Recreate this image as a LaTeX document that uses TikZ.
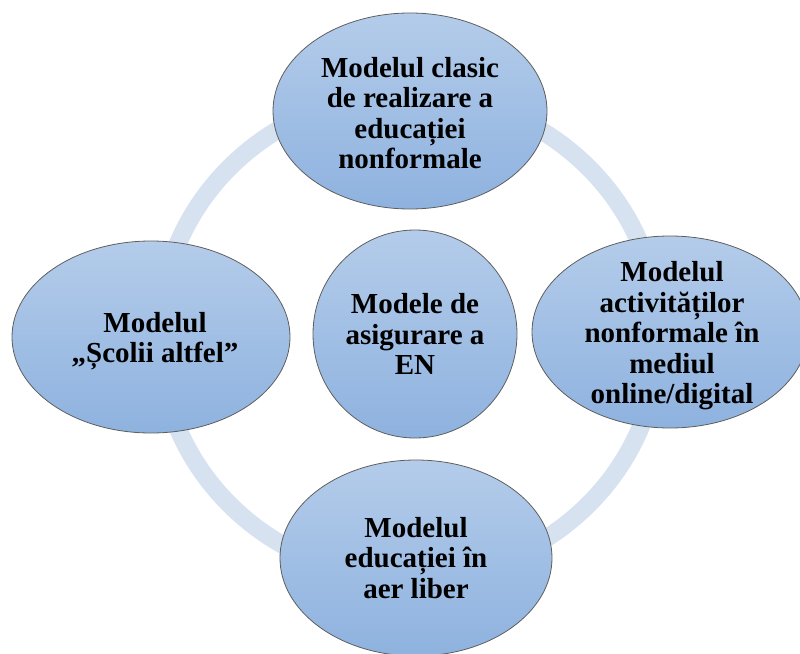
\documentclass[tikz,border=0pt]{standalone}
\usepackage{fontspec}
\setmainfont{Liberation Serif}
\usetikzlibrary{shapes.geometric}
\definecolor{ringc}{HTML}{D7E2F1}
\definecolor{topc}{HTML}{B4CCEA}
\definecolor{botc}{HTML}{8EB2DF}
\definecolor{edgec}{HTML}{5E5E5E}
\tikzset{
  bub/.style={ellipse, draw=edgec, line width=0.8pt, top color=topc, bottom color=botc, inner sep=0pt},
  txt/.style={font=\fontsize{29}{30.5}\selectfont\bfseries, align=center, text=black, inner sep=0pt},
  ringsty/.style={draw=ringc, line width=18pt}
}
\begin{document}
\begin{tikzpicture}[x=1pt,y=-1pt]
\useasboundingbox (0,0) rectangle (800,653);
\clip (0,0) rectangle (800,653);
\coordinate (rc) at (409,336);
\draw[ringsty] (rc) ellipse [x radius=250, y radius=242];

\node[bub, minimum width=274pt, minimum height=196pt] (top) at (410,111) {};
\node[bub, minimum width=278pt, minimum height=192pt] (left) at (151,337) {};
\node[bub, minimum width=276pt, minimum height=192pt] (right) at (670,332) {};
\node[bub, minimum width=272pt, minimum height=196pt] (bottom) at (416,558) {};
\node[bub, minimum width=204pt, minimum height=208pt] (center) at (415,334) {};

\node[txt] (toptxt) at ([yshift=-2pt]top.center) {Modelul clasic\\de realizare a\\educației\\nonformale};
\node[txt] (lefttxt) at ([xshift=4pt,yshift=-4pt]left.center) {Modelul\\„Școlii altfel”};
\node[txt] (righttxt) at ([xshift=2pt,yshift=-4pt]right.center) {Modelul\\activităților\\nonformale în\\mediul\\online/digital};
\node[txt] (bottomtxt) at (bottom.center) {Modelul\\educației în\\aer liber};
\node[txt] (centertxt) at (center.center) {Modele de\\asigurare a\\EN};
\end{tikzpicture}
\end{document}
